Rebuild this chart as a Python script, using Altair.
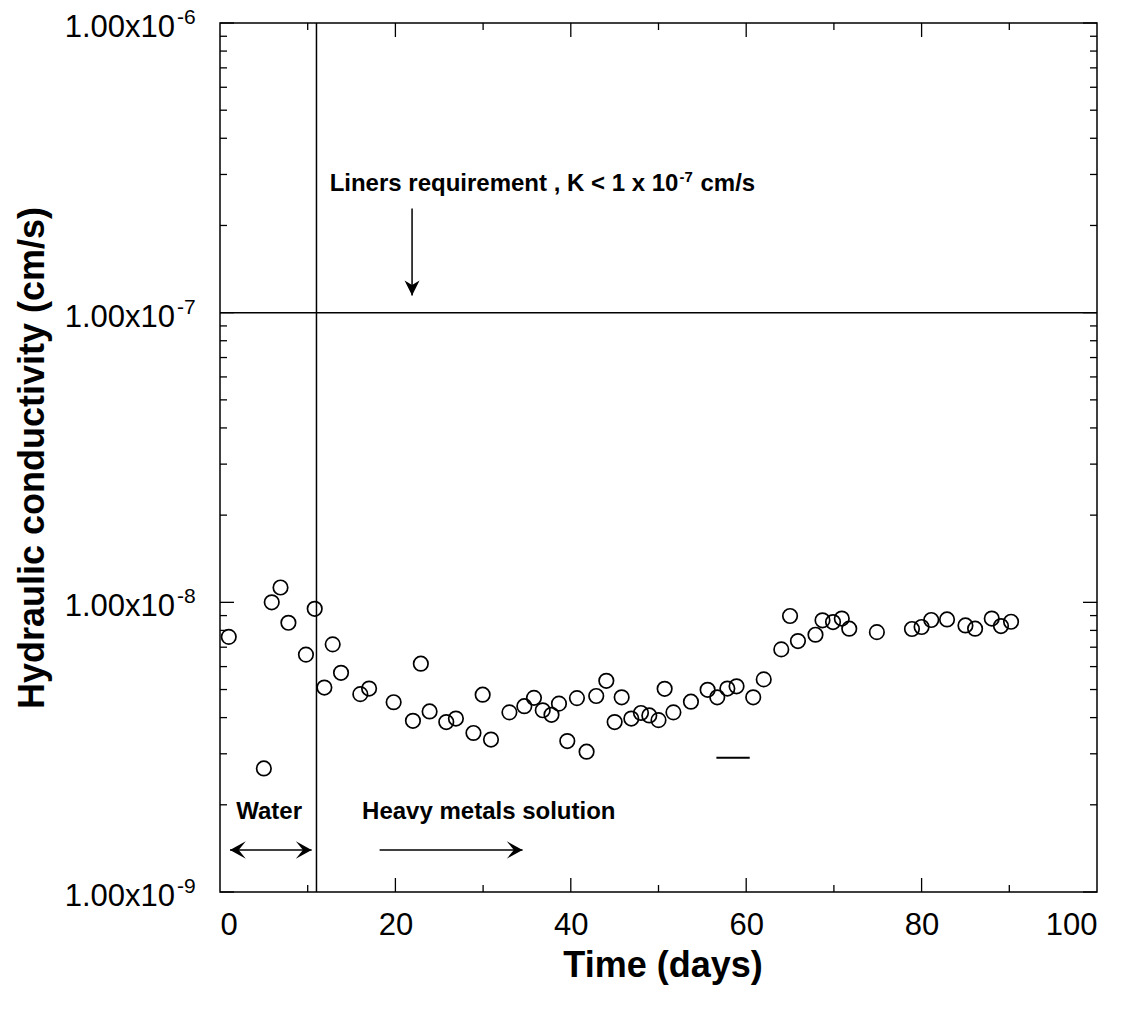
import altair as alt
import pandas as pd

# ---------------- data ----------------
days = [1, 5, 5.9, 6.9, 7.8, 9.8, 10.8, 11.9, 12.85, 13.8,
        16, 17, 19.8, 22, 22.9, 23.9, 25.8, 26.9, 28.9, 29.95,
        30.9, 33, 34.7, 35.8, 36.8, 37.8, 38.65, 39.6, 40.7, 41.8,
        42.9, 44.05, 45, 45.8, 46.9, 48, 48.95, 50, 50.7, 51.7,
        53.7, 55.6, 56.7, 57.85, 58.9, 60.8, 62, 64, 65, 65.9,
        67.9, 68.7, 69.9, 70.9, 71.75, 74.9, 78.9, 80, 81.1, 82.9,
        85, 86.1, 88, 89.05, 90.2]
conductivity = [7.6e-9, 2.67e-9, 1.0e-8, 1.125e-8, 8.5e-9, 6.6e-9, 9.5e-9, 5.08e-9, 7.16e-9, 5.71e-9,
                4.82e-9, 5.04e-9, 4.52e-9, 3.9e-9, 6.14e-9, 4.2e-9, 3.86e-9, 3.97e-9, 3.54e-9, 4.8e-9,
                3.36e-9, 4.17e-9, 4.38e-9, 4.68e-9, 4.24e-9, 4.09e-9, 4.47e-9, 3.32e-9, 4.67e-9, 3.05e-9,
                4.75e-9, 5.36e-9, 3.86e-9, 4.7e-9, 3.97e-9, 4.15e-9, 4.07e-9, 3.92e-9, 5.03e-9, 4.17e-9,
                4.54e-9, 4.99e-9, 4.7e-9, 5.04e-9, 5.13e-9, 4.7e-9, 5.42e-9, 6.88e-9, 8.97e-9, 7.35e-9,
                7.73e-9, 8.67e-9, 8.55e-9, 8.79e-9, 8.11e-9, 7.89e-9, 8.09e-9, 8.22e-9, 8.69e-9, 8.73e-9,
                8.32e-9, 8.11e-9, 8.79e-9, 8.28e-9, 8.57e-9]

x_labels = [0, 20, 40, 60, 80, 100]
x_major_ticks = [20, 40, 60, 80]
x_minor_ticks = [10, 30, 50, 70, 90]
y_major_ticks = [1e-9, 1e-8, 1e-7, 1e-6]
y_label_base = ["1.00x10", "1.00x10", "1.00x10", "1.00x10"]
y_label_exp = ["-9", "-8", "-7", "-6"]
y_minor_ticks = [m * 10.0 ** e for e in (-9, -8, -7) for m in range(2, 10)]

liner_limit = [1e-7]
water_switch_day = [11]

# annotations
liner_text_parts = ["Liners requirement , K < 1 x 10", "-7", "cm/s"]
liner_text_pos = [12.5, 2.79e-7]
liner_arrow = [21.9, 2.29e-7, 1.146e-7]          # day, from K, to K
water_text = ["Water"]
water_text_pos = [5.6, 1.89e-9]
water_arrow = [1.14, 10.45, 1.397e-9]             # from day, to day, K
metals_text = ["Heavy metals solution"]
metals_text_pos = [16.2, 1.89e-9]
metals_arrow = [18.2, 34.5, 1.397e-9]
dash_mark = [56.6, 60.4, 2.91e-9]

# ---------------- chart ----------------
W, H = 877, 869
FONT = "Liberation Sans"
MAJ, MIN = 14, 7

xs = alt.Scale(domain=[0, 100], nice=False, zero=False)
ys = alt.Scale(type="log", domain=[1e-9, 1e-6], nice=False)

XAX = alt.Axis(values=x_labels, format="d", ticks=False, tickSize=0, domain=False, grid=False,
               labelFontSize=31, labelFont=FONT, labelPadding=18, labelColor="black",
               title="Time (days)", titleFont=FONT, titleFontSize=36, titleFontWeight="bold",
               titleColor="black", titleX=W / 2 + 4, titleY=73, titleBaseline="middle")
YAX = alt.Axis(values=y_major_ticks, labels=False, ticks=False, tickSize=0,
               domain=False, grid=False,
               title="Hydraulic conductivity (cm/s)", titleFont=FONT, titleFontSize=36,
               titleFontWeight="bold", titleColor="black", titleX=-188, titleY=H / 2,
               titleAngle=270, titleAlign="center", titleBaseline="middle")


def X(field):
    return alt.X(field, scale=xs, axis=XAX, title="Time (days)")


def Y(field):
    return alt.Y(field, scale=ys, axis=YAX, title="Hydraulic conductivity (cm/s)")


df = pd.DataFrame({"day": days, "k": conductivity})

points = alt.Chart(df).mark_point(shape="circle", filled=False, size=210,
                                  strokeWidth=1.7, color="black", opacity=1).encode(
    x=X("day:Q"), y=Y("k:Q"))

hline = alt.Chart(pd.DataFrame({"k": liner_limit})).mark_rule(color="black", strokeWidth=1.5).encode(
    y=Y("k:Q"))
vline = alt.Chart(pd.DataFrame({"day": water_switch_day})).mark_rule(color="black", strokeWidth=1.5).encode(
    x=X("day:Q"))

# y tick labels with raised exponent
ylab = pd.DataFrame({"v": y_major_ticks, "base": y_label_base, "exp": y_label_exp})
ylab_base = alt.Chart(ylab).mark_text(font=FONT, fontSize=31, align="right", baseline="middle",
                                      color="black", dy=5).encode(
    y=Y("v:Q"), x=alt.value(-45), text="base:N")
ylab_exp = alt.Chart(ylab).mark_text(font=FONT, fontSize=21, align="left", baseline="middle",
                                     color="black", dy=-5).encode(
    y=Y("v:Q"), x=alt.value(-43), text="exp:N")

ymaj = pd.DataFrame({"v": y_major_ticks})
ymin = pd.DataFrame({"v": y_minor_ticks})
xmaj = pd.DataFrame({"v": x_major_ticks})
xmin = pd.DataFrame({"v": x_minor_ticks})


def yticks(d, length):
    left = alt.Chart(d).mark_rule(color="black", strokeWidth=1.3).encode(
        y=Y("v:Q"), x=alt.value(0), x2=alt.value(length))
    right = alt.Chart(d).mark_rule(color="black", strokeWidth=1.3).encode(
        y=Y("v:Q"), x=alt.value(W - length), x2=alt.value(W))
    return [left, right]


def xticks(d, length):
    bottom = alt.Chart(d).mark_rule(color="black", strokeWidth=1.3).encode(
        x=X("v:Q"), y=alt.value(H - length), y2=alt.value(H))
    top = alt.Chart(d).mark_rule(color="black", strokeWidth=1.3).encode(
        x=X("v:Q"), y=alt.value(0), y2=alt.value(length))
    return [bottom, top]


tick_layers = yticks(ymaj, MAJ) + yticks(ymin, MIN) + xticks(xmaj, MAJ) + xticks(xmin, MIN)


def text_layer(txt, pos, align, size=24, dx=0, dy=0):
    d = pd.DataFrame({"t": txt, "day": [pos[0]], "k": [pos[1]]})
    return alt.Chart(d).mark_text(font=FONT, fontSize=size, fontWeight="bold", align=align,
                                  baseline="middle", color="black", dx=dx, dy=dy).encode(
        x=X("day:Q"), y=Y("k:Q"), text="t:N")


# Liberation Sans Bold (Arial metrics): main part 14.534 em, "-7" 0.889 em, space 0.278 em
t_liner_a = text_layer([liner_text_parts[0]], liner_text_pos, "left", 24, 0, 0)
t_liner_b = text_layer([liner_text_parts[1]], liner_text_pos, "left", 15, 14.534 * 24 + 1, -7)
t_liner_c = text_layer([liner_text_parts[2]], liner_text_pos, "left", 24,
                       14.534 * 24 + 0.889 * 15 + 0.278 * 24 + 2, 0)
t_water = text_layer(water_text, water_text_pos, "center")
t_metals = text_layer(metals_text, metals_text_pos, "left")

# arrows
liner_shaft = alt.Chart(pd.DataFrame({"day": [liner_arrow[0]], "k0": [liner_arrow[1]], "k1": [liner_arrow[2]]})
                        ).mark_rule(color="black", strokeWidth=1.5).encode(
    x=X("day:Q"), y=Y("k0:Q"), y2="k1:Q")
DOWN = "M0,0 L-0.5,-1 L0,-0.7 L0.5,-1 Z"
RIGHT = "M0,0 L-1,-0.55 L-0.55,0 L-1,0.55 Z"
LEFT = "M0,0 L1,-0.55 L0.55,0 L1,0.55 Z"
liner_head = alt.Chart(pd.DataFrame({"day": [liner_arrow[0]], "k": [liner_arrow[2]]})).mark_point(
    shape=DOWN, filled=True, size=900, color="black", opacity=1, strokeWidth=0).encode(
    x=X("day:Q"), y=Y("k:Q"))


def harrow(spec, heads):
    shaft = alt.Chart(pd.DataFrame({"d0": [spec[0]], "d1": [spec[1]], "k": [spec[2]]})).mark_rule(
        color="black", strokeWidth=1.5).encode(
        x=X("d0:Q"), x2="d1:Q", y=Y("k:Q"))
    out = [shaft]
    if "left" in heads:
        out.append(alt.Chart(pd.DataFrame({"day": [spec[0]], "k": [spec[2]]})).mark_point(
            shape=LEFT, filled=True, size=1000, color="black", opacity=1, strokeWidth=0).encode(
            x=X("day:Q"), y=Y("k:Q")))
    if "right" in heads:
        out.append(alt.Chart(pd.DataFrame({"day": [spec[1]], "k": [spec[2]]})).mark_point(
            shape=RIGHT, filled=True, size=1000, color="black", opacity=1, strokeWidth=0).encode(
            x=X("day:Q"), y=Y("k:Q")))
    return out


water_arrow_layers = harrow(water_arrow, ["left", "right"])
metals_arrow_layers = harrow(metals_arrow, ["right"])

dash = alt.Chart(pd.DataFrame({"d0": [dash_mark[0]], "d1": [dash_mark[1]], "k": [dash_mark[2]]})).mark_rule(
    color="black", strokeWidth=2).encode(
    x=X("d0:Q"), x2="d1:Q", y=Y("k:Q"))

chart = alt.layer(
    points, hline, vline, *tick_layers, ylab_base, ylab_exp,
    t_liner_a, t_liner_b, t_liner_c, t_water, t_metals,
    liner_shaft, liner_head, *water_arrow_layers, *metals_arrow_layers, dash
).properties(
    width=W, height=H,
    autosize=alt.AutoSizeParams(type="none"),
    padding={"left": 220, "top": 23, "right": 42, "bottom": 117},
).configure(background="white", font=FONT).configure_view(stroke="black", strokeWidth=1.5)

chart.save("out.html", embed_options={"renderer": "svg", "actions": False})
